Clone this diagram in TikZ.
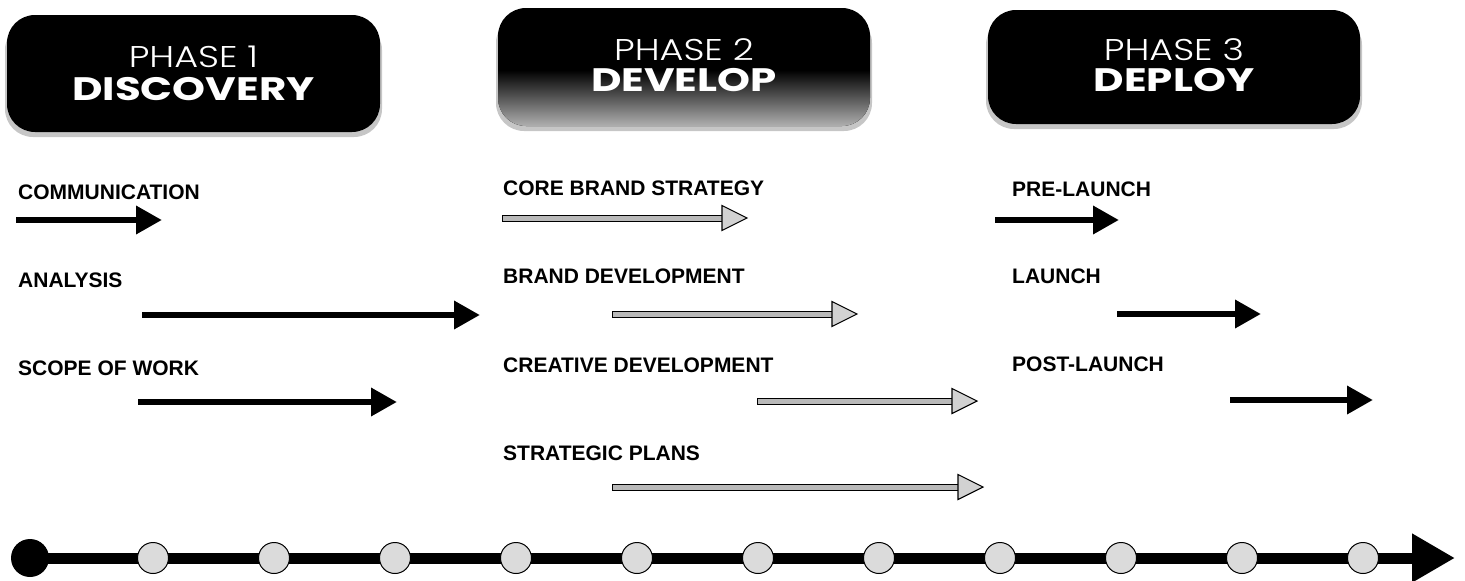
\documentclass[tikz,border=0pt]{standalone}
\usepackage{fontspec}
\setmainfont{Liberation Sans}
\newfontfamily\phfont{Poppins}[UprightFont=* Light, BoldFont=* Bold,
  UprightFeatures={FakeStretch=1.22}, BoldFeatures={FakeStretch=1.29}]
\usetikzlibrary{arrows.meta,calc,backgrounds}
\tikzset{
  phasebox/.style={fill=black, rounded corners=28pt},
  phaseshadow/.style={fill=gray!45, rounded corners=28pt},
  phasesmall/.style={anchor=base, inner sep=0, text=white, font=\phfont\fontsize{30}{32}\selectfont},
  phasebig/.style={anchor=base, inner sep=0, text=white, font=\phfont\bfseries\fontsize{32.5}{34}\selectfont},
  lbl/.style={anchor=base west, inner sep=0, font=\bfseries\fontsize{21}{24}\selectfont},
  blackarrow/.style={line width=6.5pt, -{Triangle[length=26pt,width=27pt]}},
  gshaft/.style={draw=black, line width=0.9pt, fill=gray!55},
  ghead/.style={draw=black, line width=1.1pt, fill=gray!35, line join=miter},
  dot/.style={circle, draw=black, line width=1pt, fill=gray!28, minimum size=31pt, inner sep=0},
  startdot/.style={circle, fill=black, minimum size=38pt, inner sep=0},
  timeline/.style={line width=11pt, -{Triangle[length=43pt,width=46pt]}}
}
\newcommand\garrow[3]{%
  \coordinate (#1s) at #2;
  \coordinate (#1t) at #3;
  \path[gshaft] ($(#1s)+(0,-3)$) rectangle ($(#1t)+(-23,3)$);
  \path[ghead] ($(#1t)+(-25,-12.5)$) -- (#1t) -- ($(#1t)+(-25,12.5)$) -- cycle;}
\begin{document}
\begin{tikzpicture}[x=1pt,y=-1pt]
\useasboundingbox (0,0) rectangle (1465,581);

% ---- phase headers ----
\path[phaseshadow] (5,22) rectangle (382,137);
\path[phasebox] (7,15) rectangle (380,132);
\node[phasesmall] (h1a) at (193.5,67) {PHASE 1};
\node[phasebig] (h1b) at (193.5,100) {DISCOVERY};

\path[phaseshadow] (496,15) rectangle (872,131);
\path[phasebox] (498,8) rectangle (870,126);
\begin{scope}
  \clip[rounded corners=28pt] (498,8) rectangle (870,126);
  \shade[top color=black, bottom color=gray!60] (498,70) rectangle (870,127);
\end{scope}
\node[phasesmall] (h2a) at (684,60) {PHASE 2};
\node[phasebig] (h2b) at (684,91) {DEVELOP};

\path[phaseshadow] (986,17) rectangle (1362,129);
\path[phasebox] (988,10) rectangle (1360,124);
\node[phasesmall] (h3a) at (1174,60) {PHASE 3};
\node[phasebig] (h3b) at (1174,91) {DEPLOY};

% ---- phase 1 ----
\node[lbl] (l11) at (18,199) {COMMUNICATION};
\node[lbl] (l12) at (18,287) {ANALYSIS};
\node[lbl] (l13) at (18,375) {SCOPE OF WORK};
\coordinate (a11s) at (16,220);  \coordinate (a11t) at (162,220);
\coordinate (a12s) at (142,315); \coordinate (a12t) at (480,315);
\coordinate (a13s) at (138,402); \coordinate (a13t) at (397,402);
\draw[blackarrow] (a11s) -- (a11t);
\draw[blackarrow] (a12s) -- (a12t);
\draw[blackarrow] (a13s) -- (a13t);

% ---- phase 2 ----
\node[lbl] (l21) at (503,195) {CORE BRAND STRATEGY};
\node[lbl] (l22) at (503,283) {BRAND DEVELOPMENT};
\node[lbl] (l23) at (503,372) {CREATIVE DEVELOPMENT};
\node[lbl] (l24) at (503,460) {STRATEGIC PLANS};
\garrow{a21}{(502,218)}{(747,218)}
\garrow{a22}{(612,314)}{(857,314)}
\garrow{a23}{(757,401)}{(977,401)}
\garrow{a24}{(612,487)}{(983,487)}

% ---- phase 3 ----
\node[lbl] (l31) at (1012,196) {PRE-LAUNCH};
\node[lbl] (l32) at (1012,283) {LAUNCH};
\node[lbl] (l33) at (1012,371) {POST-LAUNCH};
\coordinate (a31s) at (995,220);  \coordinate (a31t) at (1119,220);
\coordinate (a32s) at (1117,314); \coordinate (a32t) at (1261,314);
\coordinate (a33s) at (1230,400); \coordinate (a33t) at (1373,400);
\draw[blackarrow] (a31s) -- (a31t);
\draw[blackarrow] (a32s) -- (a32t);
\draw[blackarrow] (a33s) -- (a33t);

% ---- timeline ----
\node[startdot] (t0) at (30,558) {};
\foreach \i in {1,...,11} {
  \node[dot] (t\i) at ({153+121*(\i-1)},558) {};
}
\coordinate (tend) at (1455,558);
\begin{scope}[on background layer]
  \draw[timeline] (t0.center) -- (tend);
\end{scope}
\end{tikzpicture}
\end{document}
